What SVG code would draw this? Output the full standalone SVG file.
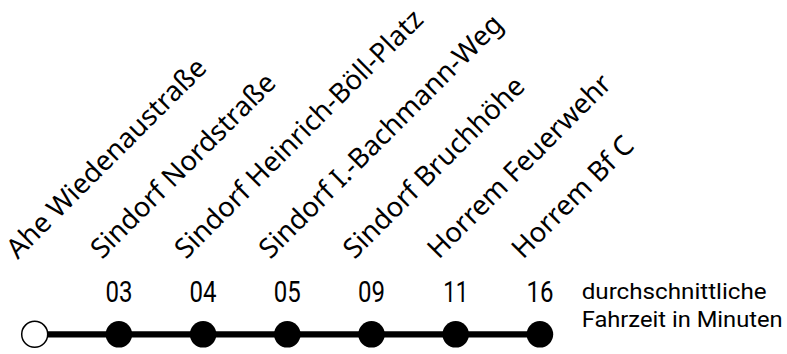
<svg xmlns="http://www.w3.org/2000/svg" width="787" height="354" viewBox="0 0 787 354">
<style>
.lbl{font-family:"Noto Sans","Open Sans",sans-serif;font-size:27.5px;fill:#000}
.num{font-family:Roboto,"Liberation Sans",sans-serif;font-size:29px;fill:#000;text-anchor:middle}
.leg{font-family:Roboto,"Liberation Sans",sans-serif;font-size:22px;fill:#000}
.stop{fill:#000}
.start{fill:#fff;stroke:#000;stroke-width:1.5}
.con{stroke:#000;stroke-width:6.3;fill:none}
</style>
<rect width="787" height="354" fill="#fff"/>
<g id="connectors">
<line class="con" x1="34.7" y1="334.3" x2="118.9" y2="334.3"/>
<line class="con" x1="118.9" y1="334.3" x2="203.1" y2="334.3"/>
<line class="con" x1="203.1" y1="334.3" x2="287.3" y2="334.3"/>
<line class="con" x1="287.3" y1="334.3" x2="371.5" y2="334.3"/>
<line class="con" x1="371.5" y1="334.3" x2="455.7" y2="334.3"/>
<line class="con" x1="455.7" y1="334.3" x2="539.9" y2="334.3"/>
</g>
<g id="stop-ahe">
<circle class="start" cx="34.7" cy="334.3" r="13"/>
<text class="lbl" transform="translate(17.7,260) rotate(-45)">Ahe Wiedenaustraße</text>
</g>
<g id="stop-nordstrasse">
<circle class="stop" cx="118.9" cy="334.3" r="13.3"/>
<text class="num" x="118.9" y="301.7" textLength="27" lengthAdjust="spacingAndGlyphs">03</text>
<text class="lbl" transform="translate(101.9,260) rotate(-45)">Sindorf Nordstraße</text>
</g>
<g id="stop-boell">
<circle class="stop" cx="203.1" cy="334.3" r="13.3"/>
<text class="num" x="203.1" y="301.7" textLength="27" lengthAdjust="spacingAndGlyphs">04</text>
<text class="lbl" transform="translate(186.1,260) rotate(-45)">Sindorf Heinrich-Böll-Platz</text>
</g>
<g id="stop-bachmann">
<circle class="stop" cx="287.3" cy="334.3" r="13.3"/>
<text class="num" x="287.3" y="301.7" textLength="27" lengthAdjust="spacingAndGlyphs">05</text>
<text class="lbl" transform="translate(270.3,260) rotate(-45)">Sindorf I.-Bachmann-Weg</text>
</g>
<g id="stop-bruchhoehe">
<circle class="stop" cx="371.5" cy="334.3" r="13.3"/>
<text class="num" x="371.5" y="301.7" textLength="27" lengthAdjust="spacingAndGlyphs">09</text>
<text class="lbl" transform="translate(354.5,260) rotate(-45)">Sindorf Bruchhöhe</text>
</g>
<g id="stop-feuerwehr">
<circle class="stop" cx="455.7" cy="334.3" r="13.3"/>
<text class="num" x="455.7" y="301.7" textLength="25" lengthAdjust="spacingAndGlyphs">11</text>
<text class="lbl" transform="translate(438.7,260) rotate(-45)">Horrem Feuerwehr</text>
</g>
<g id="stop-horrem">
<circle class="stop" cx="539.9" cy="334.3" r="13.3"/>
<text class="num" x="539.9" y="301.7" textLength="27" lengthAdjust="spacingAndGlyphs">16</text>
<text class="lbl" transform="translate(522.9,260) rotate(-45)">Horrem Bf C</text>
</g>
<g id="legend">
<text class="leg" x="581.7" y="299.3" textLength="185" lengthAdjust="spacingAndGlyphs">durchschnittliche</text>
<text class="leg" x="581.7" y="327.3" textLength="201" lengthAdjust="spacingAndGlyphs">Fahrzeit in Minuten</text>
</g>
</svg>
